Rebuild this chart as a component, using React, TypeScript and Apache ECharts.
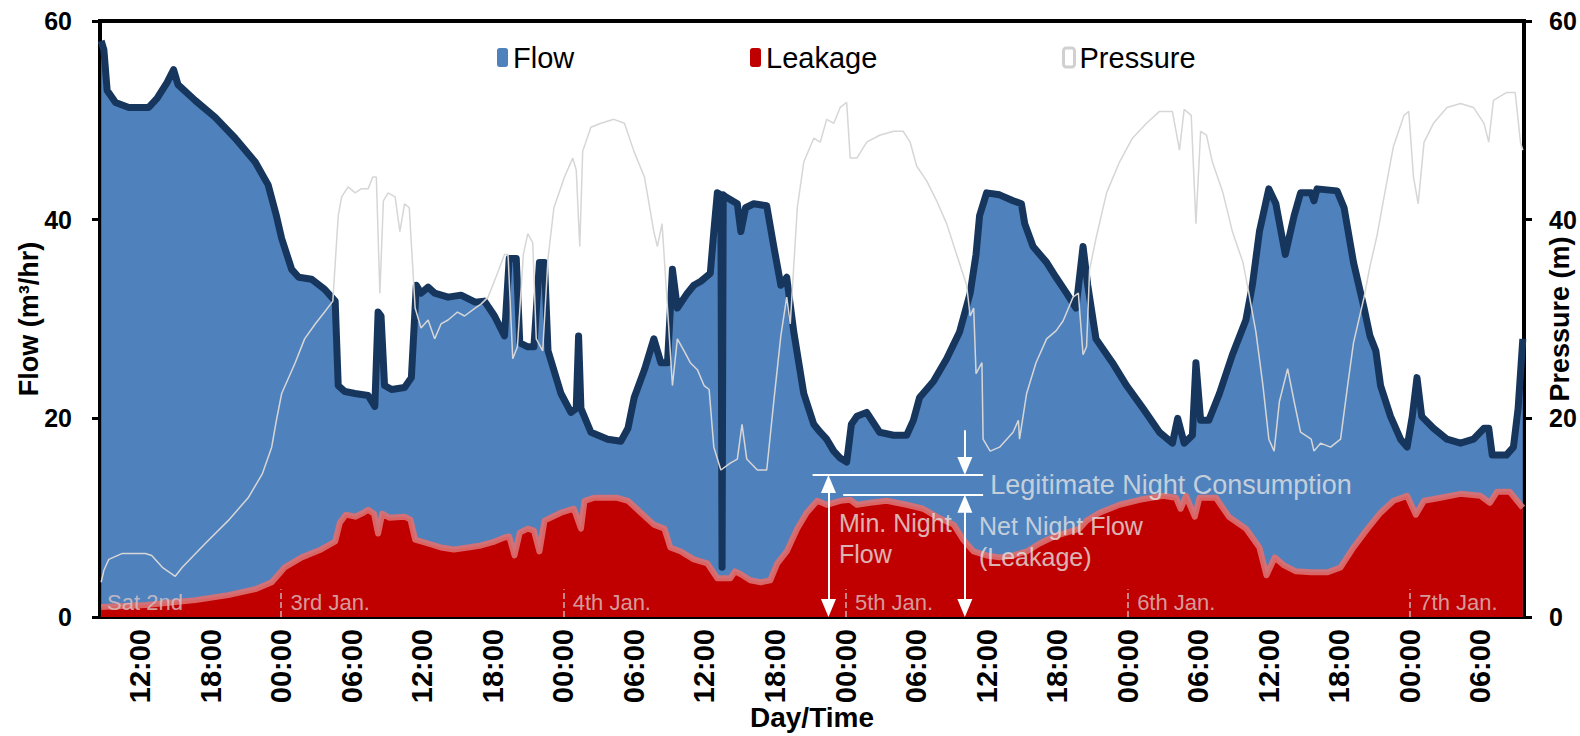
import React, { useEffect, useRef } from "react";
import * as echarts from "echarts";

// hours counted from Sat 2nd Jan 00:00
const flowData: number[][] = [
  [8.7, 58.0], [8.93, 57.1], [9.21, 53.0], [9.92, 51.8], [11.05, 51.3], [12.74, 51.3], [13.45, 52.2], [14.3, 53.8],
  [14.86, 55.1], [15.23, 53.6], [16.7, 52.0], [18.4, 50.3], [20.1, 48.2], [21.8, 45.8], [22.9, 43.5], [23.6, 40.4],
  [24.05, 38.1], [24.9, 35.0], [25.5, 34.2], [26.6, 34.0], [27.7, 33.0], [28.6, 31.8], [28.86, 23.3], [29.43, 22.7],
  [30.28, 22.5], [31.4, 22.3], [31.97, 21.2], [32.25, 30.7], [32.5, 30.3], [32.8, 23.3], [33.4, 22.9], [34.5, 23.1],
  [35.08, 24.1], [35.5, 33.4], [35.9, 32.6], [36.5, 33.2], [37.06, 32.6], [38.2, 32.2], [39.3, 32.4], [40.5, 31.7],
  [41.3, 31.8], [42.15, 30.3], [43.0, 28.3], [43.4, 36.1], [44.0, 36.1], [44.3, 27.6], [44.98, 27.2], [45.5, 27.2],
  [45.97, 35.7], [46.4, 35.7], [46.7, 26.8], [47.8, 22.5], [48.65, 20.6], [49.1, 21.0], [49.3, 28.3], [49.5, 21.0],
  [50.35, 18.6], [51.77, 17.9], [52.9, 17.7], [53.5, 19.0], [54.03, 22.1], [54.9, 24.9], [55.7, 28.0], [56.3, 25.6],
  [56.86, 25.6], [57.28, 35.0], [57.7, 31.1], [58.55, 32.6], [59.1, 33.4], [59.7, 33.8], [60.5, 34.6], [60.8, 38.8],
  [61.1, 42.7], [61.4, 42.5], [61.5, 5.0], [61.6, 42.5], [61.8, 42.3], [62.8, 41.6], [63.1, 38.8], [63.5, 41.2],
  [64.2, 41.6], [65.3, 41.4], [65.9, 37.3], [66.5, 33.4], [67.0, 34.2], [67.6, 28.7], [68.45, 22.5], [69.3, 19.4],
  [69.85, 18.6], [70.4, 17.9], [71.0, 16.7], [71.55, 16.0], [72.1, 15.6], [72.5, 19.4], [72.97, 20.2], [73.8, 20.6],
  [74.9, 18.6], [76.08, 18.3], [77.2, 18.3], [77.77, 19.8], [78.3, 22.1], [79.47, 23.7], [80.6, 26.0], [81.7, 28.7],
  [82.6, 32.6], [83.1, 36.5], [83.4, 40.4], [84.0, 42.7], [85.1, 42.5], [86.25, 41.9], [86.96, 41.6], [87.24, 39.6],
  [87.95, 37.3], [89.1, 35.7], [89.9, 34.2], [90.8, 32.6], [91.6, 31.1], [92.2, 37.3], [92.6, 33.4], [93.3, 28.0],
  [94.7, 25.6], [95.9, 23.3], [97.3, 21.0], [98.7, 18.6], [99.8, 17.5], [100.25, 20.0], [100.8, 17.5], [101.5, 18.3],
  [101.8, 25.6], [102.2, 19.8], [102.9, 19.8], [103.8, 22.5], [104.9, 26.4], [106.05, 29.9], [106.6, 33.4], [107.2, 38.8],
  [108.0, 43.1], [108.6, 41.6], [109.4, 36.5], [110.15, 40.4], [110.7, 42.7], [111.6, 42.7], [111.84, 41.9], [112.1, 43.1],
  [113.8, 42.9], [114.4, 41.2], [115.2, 35.7], [116.1, 31.1], [116.6, 28.3], [117.1, 26.8], [117.5, 23.3], [118.35, 20.2],
  [119.2, 17.9], [119.76, 17.1], [120.2, 20.2], [120.6, 24.1], [121.0, 20.2], [122.0, 19.0], [123.15, 17.9], [124.3, 17.5],
  [125.4, 17.9], [126.3, 19.0], [126.7, 19.0], [127.0, 16.3], [128.2, 16.3], [128.8, 17.1], [129.2, 21.0], [129.6, 28.0],
];

const leakageData: number[][] = [
  [8.7, 1.0], [12.5, 1.2], [16.7, 1.7], [19.5, 2.2], [21.8, 2.8], [23.2, 3.5], [23.8, 4.3], [24.3, 5.0],
  [25.75, 6.0], [27.4, 6.8], [28.6, 7.6], [29.0, 9.5], [29.5, 10.3], [30.3, 10.1], [31.0, 10.5], [31.4, 10.8],
  [31.9, 10.4], [32.25, 8.4], [32.6, 10.4], [33.2, 10.0], [34.5, 10.1], [35.0, 9.8], [35.4, 7.8], [36.5, 7.4],
  [37.6, 7.0], [38.7, 6.8], [39.9, 7.0], [41.0, 7.2], [42.15, 7.6], [43.0, 8.0], [43.4, 8.1], [43.85, 6.2],
  [44.3, 8.5], [44.98, 8.9], [45.5, 8.7], [45.97, 6.6], [46.4, 9.7], [47.8, 10.5], [48.9, 10.9], [49.5, 8.9],
  [49.8, 11.7], [50.6, 12.0], [52.6, 12.0], [53.5, 11.7], [54.6, 10.5], [55.7, 9.3], [56.6, 8.9], [57.1, 7.0],
  [58.0, 6.6], [59.1, 5.8], [60.25, 5.4], [61.1, 3.9], [62.2, 3.9], [62.6, 4.6], [63.1, 4.3], [63.9, 3.7],
  [64.8, 3.5], [65.6, 3.7], [66.2, 5.4], [67.0, 6.6], [67.9, 8.9], [68.7, 10.5], [69.6, 11.7], [70.4, 11.3],
  [71.55, 11.7], [72.4, 11.8], [72.97, 11.3], [74.1, 11.5], [75.5, 11.7], [77.2, 11.3], [78.6, 10.9], [79.75, 10.1],
  [81.2, 9.3], [82.0, 7.8], [82.9, 6.6], [84.0, 6.2], [85.1, 6.0], [86.25, 6.2], [87.4, 6.6], [88.5, 7.4],
  [89.9, 8.2], [90.8, 8.5], [91.9, 8.9], [92.5, 9.7], [93.6, 10.5], [95.3, 11.3], [97.0, 11.8], [99.0, 12.2],
  [100.1, 12.0], [100.5, 10.9], [100.96, 12.2], [101.7, 10.1], [102.1, 12.0], [103.5, 12.0], [104.6, 10.1], [106.05, 8.9],
  [107.2, 7.0], [107.8, 4.2], [108.5, 6.0], [109.3, 5.2], [110.3, 4.6], [111.6, 4.5], [113.0, 4.5], [114.1, 5.0],
  [115.2, 7.0], [116.4, 8.9], [117.5, 10.5], [118.6, 11.7], [119.76, 12.2], [120.5, 10.3], [121.2, 11.7], [122.6, 12.0],
  [124.3, 12.4], [126.0, 12.2], [126.8, 11.5], [127.4, 12.6], [128.5, 12.6], [129.6, 11.0],
];

const pressureData: number[][] = [
  [8.7, 3.5], [8.93, 4.7], [9.35, 5.8], [10.5, 6.4], [12.46, 6.4], [13.0, 6.2], [13.9, 5.0], [15.0, 4.1],
  [15.6, 5.0], [17.55, 7.4], [19.5, 9.7], [21.2, 12.0], [22.4, 14.4], [23.2, 17.1], [23.6, 19.8], [24.05, 22.5],
  [25.2, 25.6], [26.0, 28.0], [26.9, 29.5], [27.7, 30.7], [28.4, 31.8], [28.86, 40.4], [29.15, 42.3], [29.7, 43.3],
  [30.3, 42.7], [30.8, 43.1], [31.4, 43.1], [31.8, 44.3], [32.1, 44.3], [32.4, 32.6], [32.7, 41.9], [33.1, 42.7],
  [33.7, 42.3], [34.1, 38.8], [34.5, 41.6], [34.9, 41.2], [35.4, 31.1], [35.9, 29.1], [36.5, 29.9], [37.06, 28.0],
  [37.6, 29.5], [38.2, 29.9], [39.0, 30.7], [39.6, 30.3], [40.5, 31.1], [41.0, 31.5], [41.6, 32.2], [42.4, 34.6],
  [43.0, 36.5], [43.3, 36.5], [43.7, 26.0], [44.1, 27.2], [44.6, 36.5], [44.98, 38.6], [45.4, 37.7], [45.7, 28.0],
  [46.25, 26.8], [46.7, 36.1], [47.2, 41.2], [48.1, 44.3], [48.8, 46.2], [49.1, 45.0], [49.4, 37.3], [49.65, 46.9],
  [50.35, 49.3], [51.2, 49.7], [52.3, 50.1], [53.2, 49.7], [54.0, 46.9], [54.9, 44.3], [55.7, 38.8], [56.0, 37.3],
  [56.4, 39.6], [56.86, 31.1], [57.28, 23.3], [57.7, 28.0], [58.27, 26.8], [58.8, 25.6], [59.4, 24.9], [59.97, 23.3],
  [60.4, 22.9], [60.8, 17.1], [61.4, 14.8], [62.2, 15.5], [62.8, 15.9], [63.2, 19.4], [63.6, 15.9], [64.5, 14.8],
  [65.3, 14.8], [65.9, 21.7], [66.5, 28.3], [67.0, 32.2], [67.3, 29.5], [67.9, 41.2], [68.45, 45.8], [69.3, 48.2],
  [69.85, 47.8], [70.4, 50.1], [71.0, 49.7], [71.55, 51.3], [72.1, 51.8], [72.4, 46.2], [72.97, 46.2], [73.8, 47.8],
  [74.9, 48.5], [76.1, 48.9], [76.9, 48.9], [77.5, 47.8], [78.05, 45.4], [78.9, 43.9], [79.75, 41.9], [80.6, 39.6],
  [81.45, 36.5], [82.3, 33.4], [82.6, 30.3], [82.9, 31.1], [83.1, 24.5], [83.6, 25.6], [83.7, 17.9], [84.3, 16.7],
  [85.1, 17.1], [86.25, 18.6], [86.7, 19.8], [86.8, 17.9], [87.4, 22.5], [88.2, 25.6], [89.1, 28.0], [89.9, 28.8],
  [90.5, 29.8], [91.35, 32.2], [91.8, 32.6], [92.2, 26.4], [92.5, 27.2], [92.76, 35.0], [93.3, 38.1], [94.2, 42.7],
  [95.3, 45.8], [96.4, 48.2], [97.6, 49.7], [98.7, 50.9], [99.8, 50.9], [100.4, 47.0], [100.8, 51.1], [101.4, 50.5],
  [101.8, 39.6], [102.2, 48.9], [102.7, 48.5], [103.2, 45.8], [104.1, 42.7], [104.9, 38.8], [105.8, 35.7], [106.3, 32.6],
  [106.9, 28.7], [107.5, 23.3], [108.0, 17.9], [108.45, 16.7], [108.9, 21.7], [109.6, 25.0], [110.15, 21.7], [110.7, 18.6],
  [111.6, 17.9], [111.84, 16.7], [112.4, 17.5], [113.25, 17.1], [114.1, 17.9], [114.7, 23.3], [115.2, 27.6], [116.1, 32.2],
  [116.6, 35.3], [117.2, 38.4], [117.8, 42.3], [118.6, 47.4], [119.5, 50.5], [119.9, 50.9], [120.3, 44.3], [120.7, 41.6],
  [121.2, 47.8], [122.0, 49.7], [123.15, 51.3], [124.3, 51.7], [125.4, 51.3], [126.3, 49.7], [126.7, 47.8], [127.1, 52.0],
  [128.2, 52.8], [128.95, 52.8], [129.4, 47.8], [129.6, 47.0],
];

const tickHours = [12, 18, 24, 30, 36, 42, 48, 54, 60, 66, 72, 78, 84, 90, 96, 102, 108, 114, 120, 126];
const dayStarts = [24, 48, 72, 96, 120];
const dayLabels = ["Sat 2nd", "3rd Jan.", "4th Jan.", "5th Jan.", "6th Jan.", "7th Jan."];
const dayLabelHours = [9.2, 24.8, 48.8, 72.8, 96.8, 120.8];

// night-flow annotation values (hours, m3/hr)
const minNightFlow = 14.3;
const netNightFlow = 12.3;
const minNightHour = 70.55;
const netNightHour = 82.15;
const annoLineStart = [69.2, 71.8];
const annoLineEnd = 83.7;
const legitArrowTop = 18.8;
const arrowInset = 0.9;

const FONT = "Liberation Sans";

export default function App() {
  const ref = useRef<HTMLDivElement>(null);
  useEffect(() => {
    if (!ref.current) return;
    const chart = echarts.init(ref.current, undefined, { renderer: "svg" });
    const arrowSym = "triangle";
    const arrowSize: [number, number] = [15, 18];
    const legendBase = {
      top: 43, icon: "roundRect", itemWidth: 11, itemHeight: 19, padding: 0,
      textStyle: { fontSize: 29, color: "#000", fontFamily: FONT },
    };
    const option: any = {
      animation: false,
      textStyle: { fontFamily: FONT },
      grid: {
        left: 100, right: 56, top: 21, bottom: 119, outerBoundsMode: "none", containLabel: false,
        show: true, borderColor: "#000", borderWidth: 4, backgroundColor: "transparent",
      },
      legend: [
        { ...legendBase, left: 497, data: [{ name: "Flow", itemStyle: { color: "#4f81bd", borderWidth: 0 } }] },
        { ...legendBase, left: 750, data: [{ name: "Leakage", itemStyle: { color: "#c00000", borderWidth: 0 } }] },
        { ...legendBase, left: 1062, data: [{ name: "Pressure", itemStyle: { color: "#ffffff", borderColor: "#d0d0d0", borderWidth: 3 } }] },
      ],
      xAxis: {
        type: "value", min: 8.6, max: 129.7,
        name: "Day/Time", nameLocation: "middle", nameGap: 86, nameMoveOverlap: false,
        nameTextStyle: { fontSize: 28, lineHeight: 28, fontWeight: "bold", color: "#000", fontFamily: FONT },
        axisLine: { show: true, lineStyle: { color: "#000", width: 4 } },
        axisTick: { show: false },
        splitLine: { show: false },
        axisLabel: {
          customValues: tickHours, rotate: 90, margin: 12, fontSize: 29, fontWeight: "bold", color: "#000", fontFamily: FONT,
          formatter: (v: number) => String(Math.round(v) % 24).padStart(2, "0") + ":00",
        },
      },
      yAxis: [
        {
          type: "value", min: 0, max: 60, interval: 20, position: "left",
          name: "Flow (m³/hr)", nameLocation: "middle", nameGap: 58, nameRotate: 90, nameMoveOverlap: false,
          nameTextStyle: { fontSize: 27, fontWeight: "bold", color: "#000", fontFamily: FONT },
          axisLine: { show: true, lineStyle: { color: "#000", width: 4 } },
          axisTick: { show: true, length: 8, lineStyle: { color: "#000", width: 3 } },
          splitLine: { show: false },
          axisLabel: { fontSize: 25, fontWeight: "bold", color: "#000", margin: 28, fontFamily: FONT },
        },
        {
          type: "value", min: 0, max: 60, interval: 20, position: "right",
          name: "Pressure (m)", nameLocation: "middle", nameGap: 22, nameRotate: 90, nameMoveOverlap: false,
          nameTextStyle: { fontSize: 27, fontWeight: "bold", color: "#000", fontFamily: FONT },
          axisLine: { show: true, lineStyle: { color: "#000", width: 4 } },
          axisTick: { show: true, length: 8, lineStyle: { color: "#000", width: 3 } },
          splitLine: { show: false },
          axisLabel: { fontSize: 25, fontWeight: "bold", color: "#000", margin: 25, fontFamily: FONT },
        },
      ],
      series: [
        {
          name: "Flow", type: "line", data: flowData, symbol: "none", z: 2,
          itemStyle: { color: "#4f81bd" },
          lineStyle: { color: "#17365d", width: 7, join: "round" },
          areaStyle: { color: "#4f81bd", opacity: 1 },
        },
        {
          name: "Leakage", type: "line", data: leakageData, symbol: "none", z: 3,
          itemStyle: { color: "#c00000" },
          lineStyle: { color: "rgba(222,112,112,0.9)", width: 6, join: "round" },
          areaStyle: { color: "#c00000", opacity: 1 },
        },
        {
          name: "Pressure", type: "line", data: pressureData, yAxisIndex: 1, symbol: "none", z: 4,
          itemStyle: { color: "#d9d9d9" },
          lineStyle: { color: "#d6d6d6", width: 1.5 },
        },
        {
          name: "days", type: "scatter", symbolSize: 0, z: 6, silent: true,
          data: dayLabelHours.map((h, i) => ({ value: [h, 1.5], name: dayLabels[i] })),
          label: { show: true, position: "right", distance: 0, formatter: (p: any) => p.name, fontSize: 22, color: "#dcc4c4", fontFamily: FONT },
          markLine: {
            silent: true, symbol: ["none", "none"], label: { show: false },
            lineStyle: { color: "#c8b0b0", width: 1.5, type: "dashed" },
            data: dayStarts.map((h) => [{ coord: [h, 0] }, { coord: [h, 2.8] }]),
          },
        },
        {
          name: "notes", type: "scatter", symbolSize: 0, z: 7, silent: true,
          data: [
            { value: [annoLineEnd + 0.6, 13.3], name: "Legitimate Night Consumption", label: { fontSize: 27 } },
            { value: [minNightHour + 0.9, 7.9], name: "Min. Night\nFlow" },
            { value: [netNightHour + 1.2, 7.6], name: "Net Night Flow\n(Leakage)" },
          ],
          label: { show: true, position: "right", distance: 0, formatter: (p: any) => p.name, fontSize: 25, lineHeight: 31, color: "#e4e4e4", fontFamily: FONT },
          markLine: {
            silent: true, symbol: ["none", "none"], label: { show: false },
            lineStyle: { color: "#ffffff", width: 2, type: "solid" },
            data: [
              [{ coord: [annoLineStart[0], minNightFlow] }, { coord: [annoLineEnd, minNightFlow] }],
              [{ coord: [annoLineStart[1], netNightFlow] }, { coord: [annoLineEnd, netNightFlow] }],
              [{ coord: [minNightHour, minNightFlow - arrowInset], symbol: arrowSym, symbolSize: arrowSize }, { coord: [minNightHour, arrowInset], symbol: arrowSym, symbolSize: arrowSize }],
              [{ coord: [netNightHour, netNightFlow - arrowInset], symbol: arrowSym, symbolSize: arrowSize }, { coord: [netNightHour, arrowInset], symbol: arrowSym, symbolSize: arrowSize }],
              [{ coord: [netNightHour, legitArrowTop], symbol: "none" }, { coord: [netNightHour, minNightFlow + arrowInset], symbol: arrowSym, symbolSize: arrowSize }],
            ],
          },
        },
      ],
    };
    chart.setOption(option);
    return () => chart.dispose();
  }, []);
  return <div ref={ref} style={{ position: "absolute", left: 0, top: 0, width: 1580, height: 736, background: "#fff" }} />;
}
